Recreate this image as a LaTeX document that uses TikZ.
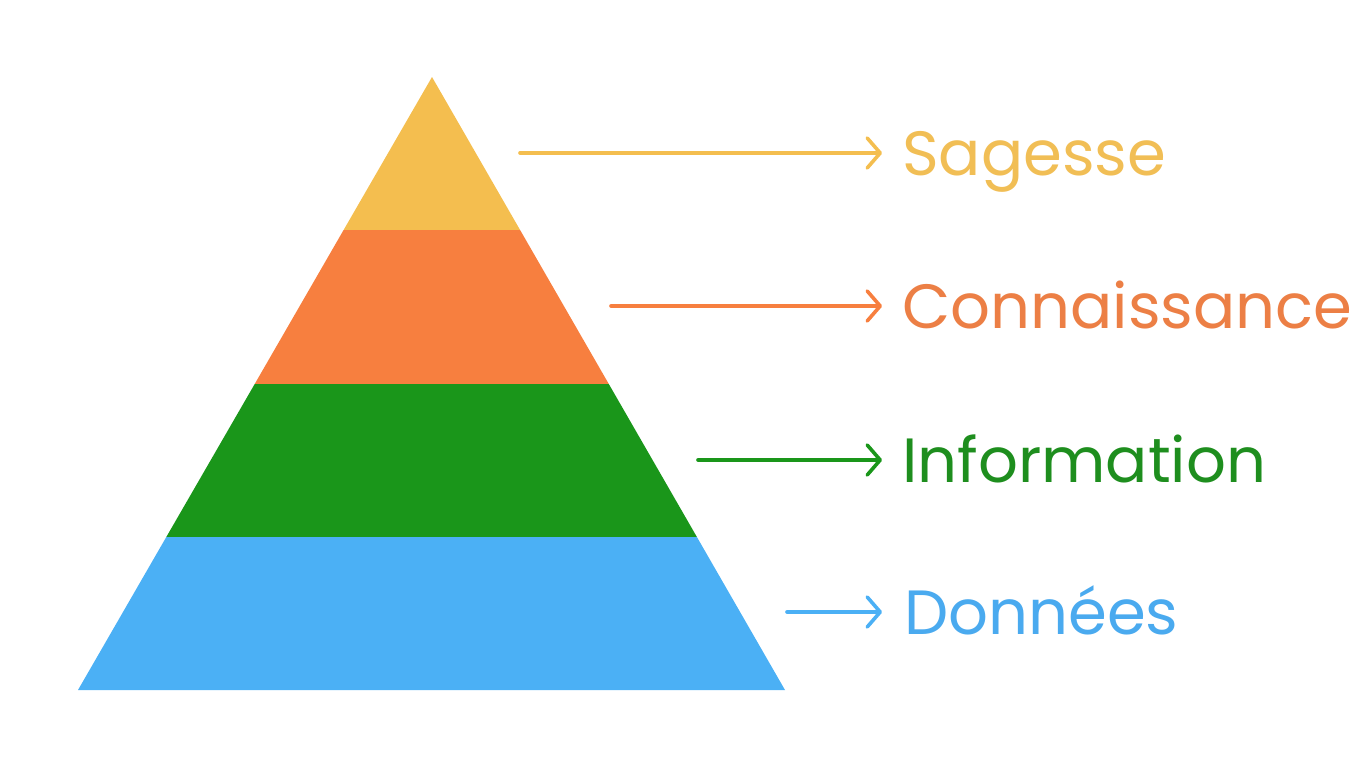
\documentclass[tikz,border=0pt]{standalone}
\usepackage{fontspec}
\setmainfont{Poppins}
\usetikzlibrary{arrows.meta,calc}
\definecolor{wisdom}{HTML}{F4BE4F}
\definecolor{knowledge}{HTML}{F77F3F}
\definecolor{info}{HTML}{1A961A}
\definecolor{datablue}{HTML}{4BB0F5}
\definecolor{wisdomtxt}{HTML}{F1BE55}
\definecolor{knowtxt}{HTML}{EC7F45}
\definecolor{infotxt}{HTML}{1E8E1E}
\definecolor{datatxt}{HTML}{4AAAEF}
\tikzset{
  layer/.style={line width=0pt, draw=none},
  lvl/.style={anchor=base west, inner sep=0pt, font=\fontsize{62.5}{66}\selectfont},
  larr/.style={-{Straight Barb[length=13pt, width=30pt, line cap=round, line join=round]},
               line width=3.6pt, line cap=round}}

\begin{document}
\begin{tikzpicture}[x=1pt, y=-1pt]
    \useasboundingbox (0,0) rectangle (1365,768);
    % pyramid, top to bottom
    \fill[layer, wisdom]    (432,77) -- (520.1,230) -- (343.6,230) -- cycle;
    \fill[layer, knowledge] (343.6,230) -- (520.1,230) -- (608.8,384) -- (254.7,384) -- cycle;
    \fill[layer, info]      (254.7,384) -- (608.8,384) -- (696.9,537) -- (166.3,537) -- cycle;
    \fill[layer, datablue]  (166.3,537) -- (696.9,537) -- (785,690) -- (78,690) -- cycle;
    % labels
    \node[lvl, text=wisdomtxt] (sag) at (902,175) {Sagesse};
    \node[lvl, text=knowtxt]   (con) at (902,328) {Connaissance};
    \node[lvl, text=infotxt]   (inf) at (902,482) {Information};
    \node[lvl, text=datatxt]   (don) at (904,634) {Données};
    \coordinate (s0) at (520,153);
    \coordinate (c0) at (611,306);
    \coordinate (i0) at (698,460);
    \coordinate (d0) at (787,612);
    \draw[larr, wisdom]    (s0) -- ($(sag.west |- s0)+(-20,0)$);
    \draw[larr, knowledge] (c0) -- ($(con.west |- c0)+(-20,0)$);
    \draw[larr, info]      (i0) -- ($(inf.west |- i0)+(-20,0)$);
    \draw[larr, datablue]  (d0) -- ($(don.west |- d0)+(-22,0)$);
\end{tikzpicture}
\end{document}
